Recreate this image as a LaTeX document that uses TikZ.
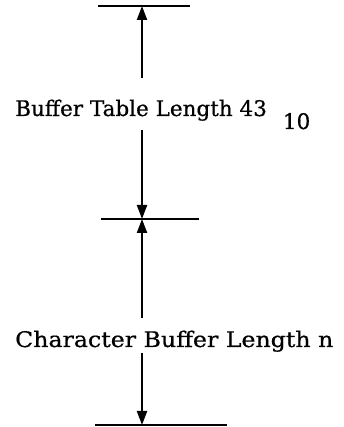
\documentclass[tikz,border=0pt]{standalone}
\usepackage{fontspec}
\setmainfont{DejaVu Serif}
\newfontfamily\labelfont[FakeBold=0.6]{DejaVu Serif}
\usetikzlibrary{arrows.meta}
\begin{document}
\begin{tikzpicture}[x=1pt,y=1pt,
  bound/.style={line width=2pt},
  dimarrow/.style={line width=2.2pt,-{Triangle[length=14pt,width=10pt]}},
  label/.style={anchor=base west,inner sep=0pt,font=\labelfont\fontsize{21.5}{24}\selectfont}]
\useasboundingbox (0,0) rectangle (343,427);
% horizontal boundary marks
\coordinate (tl) at (98,421);  \coordinate (tr) at (190,421);
\coordinate (ml) at (101,208); \coordinate (mr) at (199,208);
\coordinate (bl) at (95,2);    \coordinate (br) at (227,2);
\draw[bound] (tl) -- (tr);
\draw[bound] (ml) -- (mr);
\draw[bound] (bl) -- (br);
% arrow tips on the boundaries
\coordinate (t) at (142,421);
\coordinate (m) at (142,208);
\coordinate (b) at (142,2);
% ends of the arrow shafts beside the labels
\coordinate (a1) at (142,349); \coordinate (a2) at (142,297);
\coordinate (b1) at (142,109); \coordinate (b2) at (142,74);
% labels
\node[label] (buf) at (15,311) {Buffer Table Length 43\hspace{16pt}\raisebox{-13pt}{10}};
\node[label] (chr) at (15,80) {\scalebox{1.1}[1]{Character Buffer Length n}};
% dimension arrows
\draw[dimarrow] (a1) -- (t);
\draw[dimarrow] (a2) -- (m);
\draw[dimarrow] (b1) -- (m);
\draw[dimarrow] (b2) -- (b);
\end{tikzpicture}
\end{document}
